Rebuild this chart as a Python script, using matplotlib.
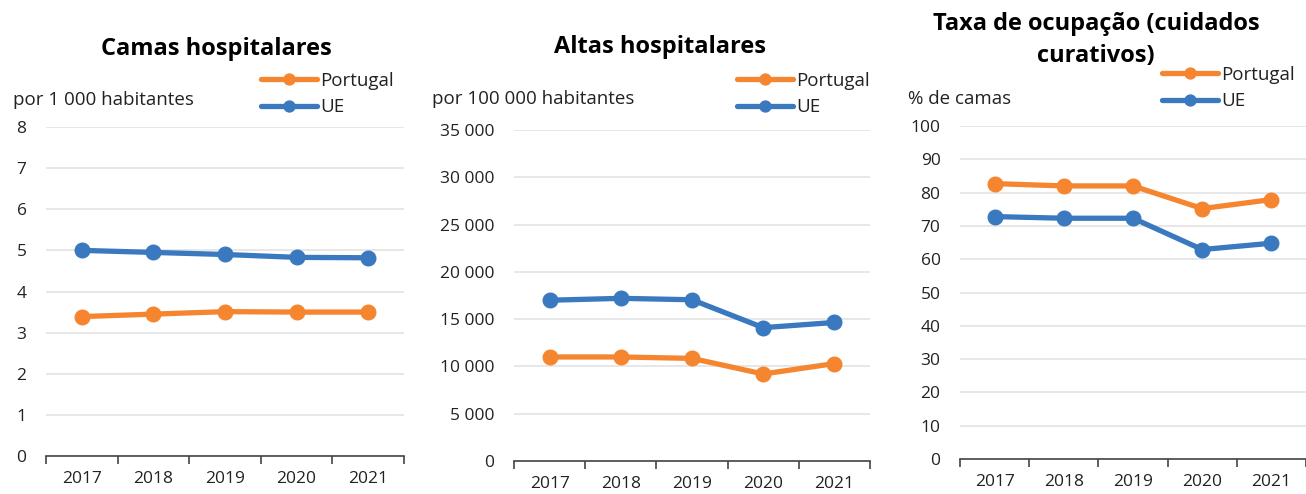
import numpy as np
import matplotlib.pyplot as plt
from matplotlib.ticker import FixedLocator, NullFormatter

plt.rcParams['font.family'] = ['Open Sans', 'DejaVu Sans']

anos = ['2017', '2018', '2019', '2020', '2021']

# Camas hospitalares, por 1 000 habitantes
camas_pt = [3.39, 3.45, 3.51, 3.50, 3.50]
camas_ue = [5.00, 4.95, 4.90, 4.83, 4.82]

# Altas hospitalares, por 100 000 habitantes
altas_pt = [11000, 11000, 10850, 9200, 10300]
altas_ue = [17000, 17200, 17050, 14100, 14650]

# Taxa de ocupacao (cuidados curativos), % de camas
taxa_pt = [82.7, 82.0, 82.0, 75.2, 77.9]
taxa_ue = [72.8, 72.3, 72.3, 62.9, 64.8]

laranja = '#F5862F'
azul = '#3A78BF'

W, H = 1306, 494
fig = plt.figure(figsize=(W / 100, H / 100), dpi=100)


def fmt(v):
    return f'{int(v):,}'.replace(',', ' ')


def painel(box, pt, ue, yticks, titulo, unidade, tpos, upos, lpos):
    x0, y0, x1, y1 = box  # pixels: left, top, right, bottom
    ax = fig.add_axes([x0 / W, 1 - y1 / H, (x1 - x0) / W, (y1 - y0) / H])
    x = np.arange(len(anos))
    ax.plot(x, pt, color=laranja, lw=3.8, marker='o', ms=10.5, label='Portugal',
            solid_capstyle='round', zorder=3)
    ax.plot(x, ue, color=azul, lw=3.8, marker='o', ms=10.5, label='UE',
            solid_capstyle='round', zorder=3)
    ax.set_xlim(-0.5, len(anos) - 0.5)
    ax.set_ylim(yticks[0], yticks[-1])
    ax.set_yticks(yticks)
    ax.set_yticklabels([fmt(v) for v in yticks])
    ax.yaxis.grid(True, color='#e3e3e3', lw=1.2)
    ax.set_axisbelow(True)
    ax.tick_params(axis='y', length=0, labelsize=12.5, colors='#222222', pad=14)
    ax.xaxis.set_major_locator(FixedLocator(np.arange(-0.5, len(anos), 1.0)))
    ax.xaxis.set_major_formatter(NullFormatter())
    ax.xaxis.set_minor_locator(FixedLocator(x))
    ax.set_xticklabels(anos, minor=True)
    ax.tick_params(axis='x', which='major', length=6, width=1.2, color='#444444')
    ax.tick_params(axis='x', which='minor', length=0, labelsize=12.5,
                   colors='#222222', pad=11)
    for s in ['top', 'right', 'left']:
        ax.spines[s].set_visible(False)
    ax.spines['bottom'].set_color('#444444')
    ax.spines['bottom'].set_linewidth(1.2)
    for ln in ax.lines:
        ln.set_clip_on(False)

    for i, linha in enumerate(titulo):
        fig.text(tpos[0] / W, 1 - (tpos[1] + i * 32) / H, linha, ha='center',
                 va='center', fontsize=17, fontweight='bold', color='black')
    fig.text(upos[0] / W, 1 - upos[1] / H, unidade,
             ha='left', va='center', fontsize=13.5, color='#222222')
    leg = fig.legend(handles=ax.lines, loc='upper left',
                     bbox_to_anchor=(lpos[0] / W, 1 - lpos[1] / H),
                     frameon=False, fontsize=13.5, handlelength=3.0,
                     handletextpad=0.15, labelspacing=0.45, borderpad=0,
                     borderaxespad=0, markerscale=0.75)
    for t in leg.get_texts():
        t.set_color('#222222')
    return ax


painel((46, 127, 404, 456), camas_pt, camas_ue, list(range(0, 9)),
       ['Camas hospitalares'], 'por 1 000 habitantes',
       (216, 49), (13, 100), (261, 72))
painel((514, 130, 870, 461), altas_pt, altas_ue, list(range(0, 35001, 5000)),
       ['Altas hospitalares'], 'por 100 000 habitantes',
       (660, 47), (432, 99), (737, 72))
painel((960, 126, 1306, 459), taxa_pt, taxa_ue, list(range(0, 101, 10)),
       ['Taxa de ocupação (cuidados', 'curativos)'], '% de camas',
       (1096, 24), (908, 99), (1162, 66))

fig.savefig('out.png', dpi=100)
